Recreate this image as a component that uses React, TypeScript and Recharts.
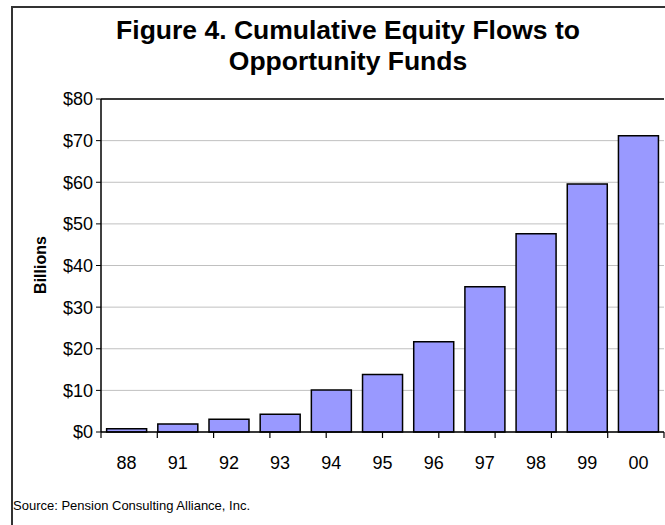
import React from "react";
import { BarChart, Bar, XAxis, YAxis, CartesianGrid, ReferenceLine } from "recharts";

// Cumulative equity flows to opportunity funds, in billions of dollars
const years = ["88", "91", "92", "93", "94", "95", "96", "97", "98", "99", "00"];
const flows = [0.8, 1.9, 3.05, 4.25, 10.1, 13.8, 21.7, 34.9, 47.6, 59.6, 71.2];
const yTicks = [0, 10, 20, 30, 40, 50, 60, 70, 80];

const data = years.map((year, i) => ({ year, flow: flows[i] }));
// category boundaries for the tick marks between bars
const edgeTicks = [...years.map((_, i) => i), years.length];

const FONT = "'Liberation Sans', Arial, sans-serif";

export default function App() {
  return (
    <div
      style={{
        position: "absolute",
        left: 0,
        top: 0,
        width: 665,
        height: 525,
        overflow: "hidden",
        background: "#fff",
        fontFamily: FONT,
      }}
    >
      <div
        style={{
          position: "absolute",
          left: 11,
          top: 6,
          width: 700,
          height: 600,
          borderLeft: "2px solid #333",
          borderTop: "2px solid #333",
        }}
      />
      <div
        style={{
          position: "absolute",
          left: 11,
          top: 15,
          width: 674,
          textAlign: "center",
          fontSize: 26.5,
          fontWeight: "bold",
          lineHeight: "31px",
          color: "#000",
        }}
      >
        Figure 4. Cumulative Equity Flows to
        <br />
        Opportunity Funds
      </div>
      <div
        style={{
          position: "absolute",
          left: 41,
          top: 265,
          transform: "translate(-50%, -50%) rotate(-90deg)",
          fontSize: 16,
          fontWeight: "bold",
          whiteSpace: "nowrap",
          color: "#000",
        }}
      >
        Billions
      </div>
      <div
        style={{
          position: "absolute",
          left: 13,
          top: 498,
          fontSize: 13,
          color: "#000",
          whiteSpace: "nowrap",
        }}
      >
        Source: Pension Consulting Alliance, Inc.
      </div>
      <div style={{ position: "absolute", left: 0, top: 0 }}>
        <BarChart
          width={665}
          height={525}
          data={data}
          margin={{ top: 99, right: 1, bottom: 62, left: 51 }}
          barCategoryGap="11%"
        >
          <CartesianGrid horizontal vertical={false} stroke="#c0c0c0" strokeWidth={1} />
          <XAxis
            xAxisId="a-edge"
            type="number"
            domain={[0, years.length]}
            ticks={edgeTicks}
            tickFormatter={() => ""}
            tickSize={6}
            axisLine={{ stroke: "#000", strokeWidth: 1.5 }}
            tickLine={{ stroke: "#000", strokeWidth: 1.2 }}
            height={1}
            interval={0}
          />
          <XAxis
            xAxisId="b-year"
            dataKey="year"
            height={30}
            tickSize={0}
            tickMargin={23}
            tickLine={false}
            axisLine={false}
            tick={{ fill: "#000", fontSize: 18, fontFamily: FONT }}
            interval={0}
          />
          <YAxis
            width={50}
            domain={[0, 80]}
            ticks={yTicks}
            tickFormatter={(v: number) => `$${v}`}
            tickSize={5}
            tickMargin={3}
            tickLine={{ stroke: "#000" }}
            axisLine={{ stroke: "#000", strokeWidth: 1.5 }}
            tick={{ fill: "#000", fontSize: 18, fontFamily: FONT }}
            interval={0}
          />
          <ReferenceLine xAxisId="b-year" y={80} stroke="#000" strokeWidth={1.5} />
          <ReferenceLine xAxisId="a-edge" x={years.length} stroke="#000" strokeWidth={1.5} />
          <Bar
            xAxisId="b-year"
            dataKey="flow"
            fill="#9999ff"
            stroke="#000"
            strokeWidth={1.5}
            isAnimationActive={false}
          />
        </BarChart>
      </div>
    </div>
  );
}
